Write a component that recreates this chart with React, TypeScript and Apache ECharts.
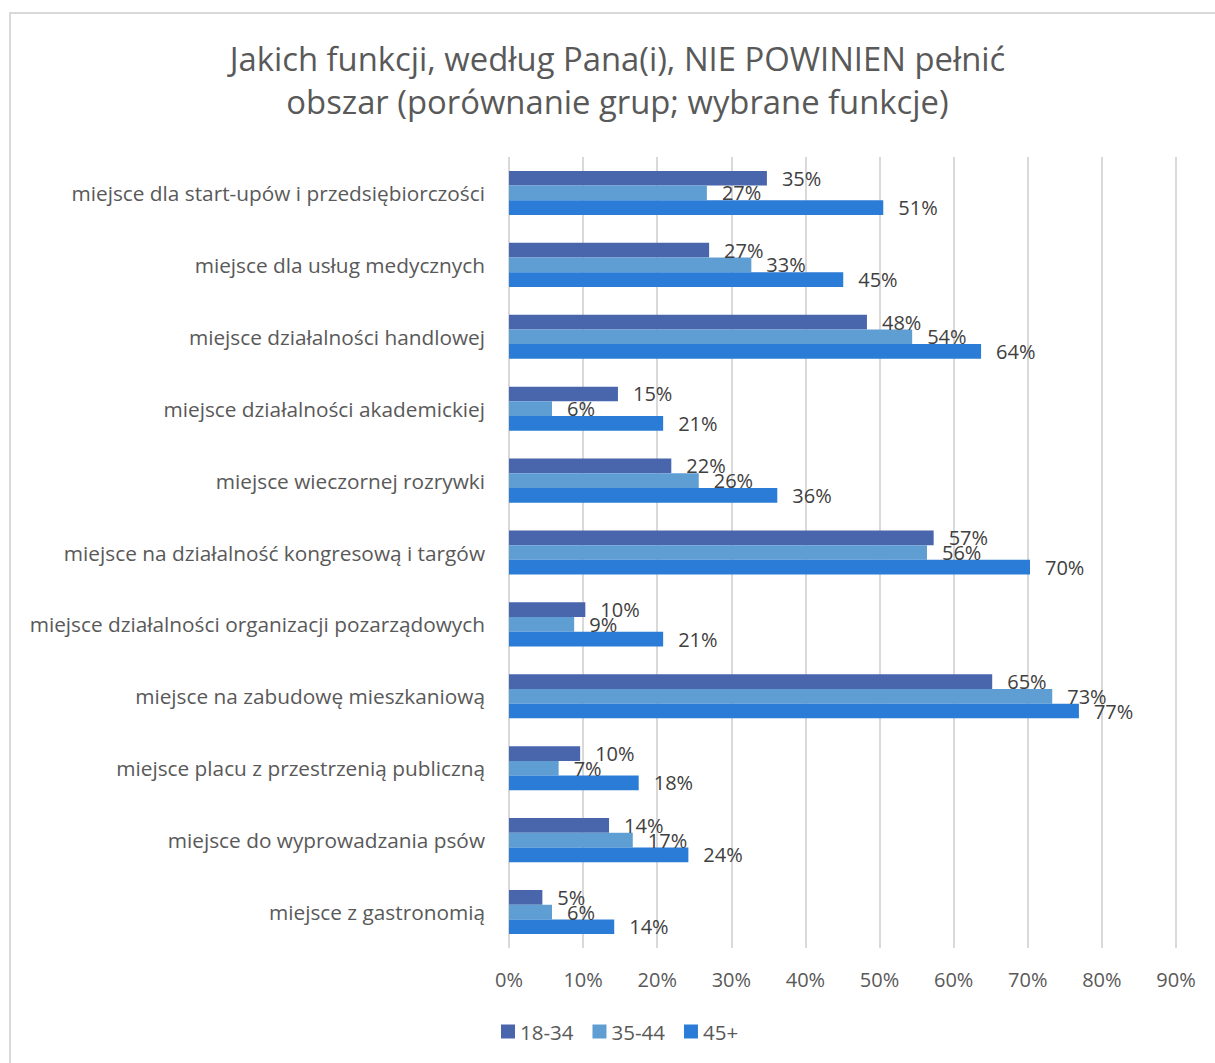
import React, { useEffect, useRef } from "react";
import * as echarts from "echarts";

const categories = [
  "miejsce dla start-upów i przedsiębiorczości",
  "miejsce dla usług medycznych",
  "miejsce działalności handlowej",
  "miejsce działalności akademickiej",
  "miejsce wieczornej rozrywki",
  "miejsce na działalność kongresową i targów",
  "miejsce działalności organizacji pozarządowych",
  "miejsce na zabudowę mieszkaniową",
  "miejsce placu z przestrzenią publiczną",
  "miejsce do wyprowadzania psów",
  "miejsce z gastronomią",
];

const seriesNames = ["18-34", "35-44", "45+"];
const values1834 = [34.8, 27.0, 48.3, 14.7, 21.9, 57.3, 10.3, 65.2, 9.6, 13.5, 4.5];
const values3544 = [26.7, 32.7, 54.4, 5.8, 25.6, 56.4, 8.8, 73.3, 6.7, 16.7, 5.8];
const values45 = [50.5, 45.1, 63.7, 20.8, 36.2, 70.3, 20.8, 76.9, 17.5, 24.2, 14.2];
const colors = ["#4965AC", "#5F9ED3", "#2B7CD6"];
const titleLines = [
  "Jakich funkcji, według Pana(i), NIE POWINIEN pełnić",
  "obszar (porównanie grup; wybrane funkcje)",
];

const FONT = "Open Sans";

export default function App() {
  const ref = useRef<HTMLDivElement>(null);
  useEffect(() => {
    if (!ref.current) return;
    const chart = echarts.init(ref.current, undefined, { renderer: "svg" });
    const data = [values1834, values3544, values45];
    chart.setOption({
      animation: false,
      backgroundColor: "#ffffff",
      textStyle: { fontFamily: FONT },
      graphic: [
        {
          type: "rect",
          shape: { x: 10, y: 13, width: 1220, height: 1070 },
          style: { fill: "none", stroke: "#D9D9D9", lineWidth: 2 },
          silent: true,
        },
        {
          type: "text",
          x: 617.5,
          y: 58,
          style: {
            text: titleLines[0],
            fontFamily: FONT,
            fontSize: 32.8,
            fill: "#595959",
            textAlign: "center",
            textVerticalAlign: "middle",
          },
        },
        {
          type: "text",
          x: 617.5,
          y: 101,
          style: {
            text: titleLines[1],
            fontFamily: FONT,
            fontSize: 32.8,
            fill: "#595959",
            textAlign: "center",
            textVerticalAlign: "middle",
          },
        },
      ],
      legend: {
        data: seriesNames,
        left: 501,
        top: 1021,
        padding: 0,
        icon: "rect",
        itemWidth: 14,
        itemHeight: 14,
        itemGap: 19,
        textStyle: { fontFamily: FONT, fontSize: 20.5, color: "#595959" },
      },
      grid: { left: 509, right: 39, top: 157, bottom: 115, containLabel: false },
      xAxis: {
        type: "value",
        min: 0,
        max: 90,
        interval: 10,
        axisLine: { show: false },
        axisTick: { show: false },
        splitLine: { show: true, lineStyle: { color: "#D9D9D9", width: 2 } },
        axisLabel: {
          formatter: "{value}%",
          fontFamily: FONT,
          fontSize: 20,
          color: "#595959",
          margin: 21,
        },
      },
      yAxis: {
        type: "category",
        data: categories,
        inverse: true,
        axisLine: { show: false },
        axisTick: { show: false },
        axisLabel: { fontFamily: FONT, fontSize: 20.8, color: "#595959", margin: 24 },
      },
      series: seriesNames.map((name, i) => ({
        name,
        type: "bar",
        data: data[i],
        barWidth: 14.7,
        barGap: "0%",
        itemStyle: { color: colors[i] },
        label: {
          show: true,
          position: "right",
          distance: 15,
          formatter: (p: any) => Math.round(p.value) + "%",
          fontFamily: FONT,
          fontSize: 20,
          color: "#404040",
        },
      })),
    });
    return () => chart.dispose();
  }, []);
  return (
    <div
      ref={ref}
      style={{ position: "fixed", left: 0, top: 0, width: 1215, height: 1063 }}
    />
  );
}
